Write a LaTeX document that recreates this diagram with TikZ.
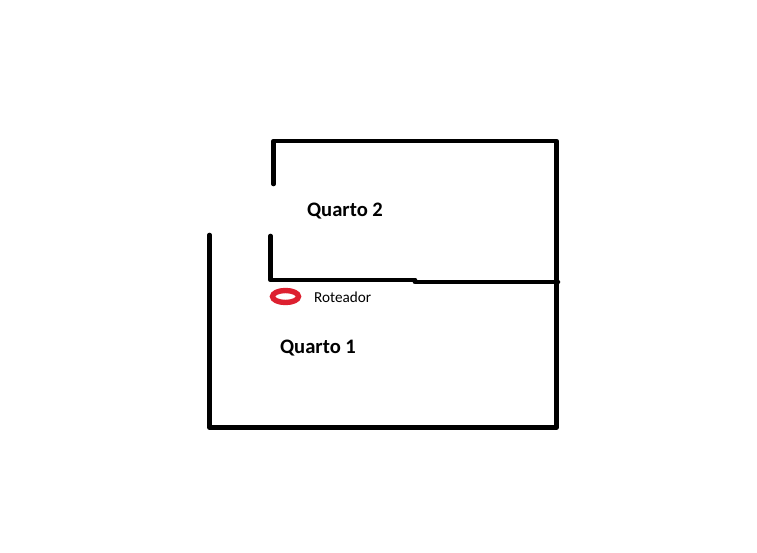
\documentclass[tikz,border=0pt]{standalone}
\usepackage{fontspec}
\setmainfont{Carlito}
\usetikzlibrary{shapes.geometric}
\definecolor{routerred}{RGB}{221,32,48}
\tikzset{wall/.style={line width=4.6pt,line cap=round,line join=round},
	room/.style={font=\bfseries\fontsize{20.6pt}{22pt}\selectfont,inner sep=0pt},
	router/.style={ellipse,draw=routerred,line width=5.4pt,minimum width=26pt,minimum height=12pt,inner sep=0pt},
	routerlabel/.style={font=\fontsize{15.2pt}{17pt}\selectfont,inner sep=0pt}}
\begin{document}
\begin{tikzpicture}[x=1pt,y=-1pt]
	\useasboundingbox (0,0) rectangle (757,553);
	\draw[wall] (273.5,184) -- (273.5,141) -- (556.5,141) -- (556.5,282);
	\draw[wall] (270.5,236) -- (270.5,280) -- (415,280);
	\draw[wall] (415,282) -- (558,282);
	\draw[wall] (209.5,235) -- (209.5,427.5) -- (556.5,427.5) -- (556.5,282);
	\node[room] (Quarto2) at (345,211.5) {Quarto 2};
	\node[room] (Quarto1) at (318,348.5) {Quarto 1};
	\node[router] (Roteador) at (285.5,296.5) {};
	\node[routerlabel,anchor=west] (RoteadorLabel) at (314,297) {Roteador};
\end{tikzpicture}
\end{document}
